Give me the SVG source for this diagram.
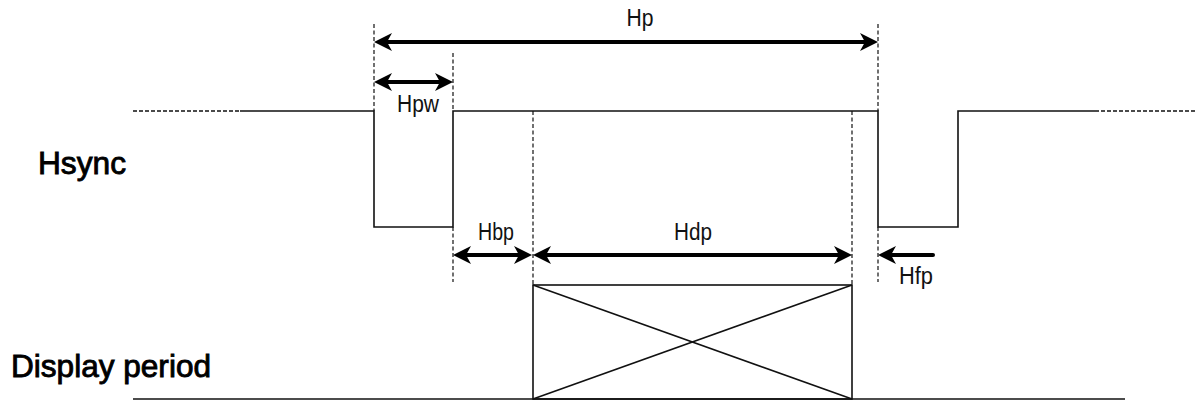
<svg xmlns="http://www.w3.org/2000/svg" width="1196" height="400" viewBox="0 0 1196 400">
<style>
.sig{fill:none;stroke:#111;stroke-width:1.6}
.ext{fill:none;stroke:#111;stroke-width:1.4;stroke-dasharray:4 2}
.guide{fill:none;stroke:#111;stroke-width:1.2;stroke-dasharray:4 2.5}
.arr{fill:none;stroke:#000;stroke-width:4}
.lbl{font-family:"Liberation Sans",Arial,sans-serif;font-size:23px;fill:#111;text-anchor:middle}
.big{font-family:"Liberation Sans",Arial,sans-serif;font-size:32px;fill:#000;stroke:#000;stroke-width:0.9}
</style>
<defs>
<marker id="ah" viewBox="0 0 18 18" refX="12" refY="9" markerWidth="18" markerHeight="18" markerUnits="userSpaceOnUse" orient="auto-start-reverse">
<path d="M0,0 L18,9 L0,18 L5,9 z" fill="#000"/>
</marker>
</defs>
<g id="guides">
<line class="guide" x1="374" y1="24" x2="374" y2="111"/>
<line class="guide" x1="453" y1="53" x2="453" y2="111"/>
<line class="guide" x1="453" y1="227" x2="453" y2="282"/>
<line class="guide" x1="533" y1="111" x2="533" y2="285"/>
<line class="guide" x1="852" y1="111" x2="852" y2="285"/>
<line class="guide" x1="878" y1="24" x2="878" y2="111"/>
<line class="guide" x1="878" y1="227" x2="878" y2="282"/>
</g>
<g id="hsync-signal">
<line class="ext" x1="133" y1="111" x2="240" y2="111"/>
<path class="sig" d="M240,111 H374 V227 H453 V111 H878 V227 H958 V111 H1095"/>
<line class="ext" x1="1095" y1="111" x2="1196" y2="111"/>
</g>
<g id="display-signal">
<line class="sig" x1="133" y1="399" x2="1125" y2="399"/>
<rect class="sig" x="533" y="285" width="319" height="114"/>
<line class="sig" x1="533" y1="285" x2="852" y2="399"/>
<line class="sig" x1="533" y1="399" x2="852" y2="285"/>
</g>
<g id="connectors">
<line class="arr" x1="380" y1="42" x2="872" y2="42" marker-start="url(#ah)" marker-end="url(#ah)"/>
<line class="arr" x1="380" y1="82" x2="447" y2="82" stroke-width="3.5" marker-start="url(#ah)" marker-end="url(#ah)"/>
<line class="arr" x1="459" y1="255" x2="526" y2="255" marker-start="url(#ah)" marker-end="url(#ah)"/>
<line class="arr" x1="539" y1="255" x2="846" y2="255" marker-start="url(#ah)" marker-end="url(#ah)"/>
<path class="arr" d="M933,255 H884" stroke-linecap="round" marker-end="url(#ah)"/>
</g>
<g id="labels">
<text class="lbl" x="640" y="26" textLength="27" lengthAdjust="spacingAndGlyphs">Hp</text>
<text class="lbl" x="418" y="112" textLength="42" lengthAdjust="spacingAndGlyphs">Hpw</text>
<text class="lbl" x="496" y="240" textLength="36" lengthAdjust="spacingAndGlyphs">Hbp</text>
<text class="lbl" x="693" y="240" textLength="38" lengthAdjust="spacingAndGlyphs">Hdp</text>
<text class="lbl" x="916" y="284" textLength="34" lengthAdjust="spacingAndGlyphs">Hfp</text>
<text class="big" x="38" y="174" textLength="88" lengthAdjust="spacingAndGlyphs">Hsync</text>
<text class="big" x="11" y="377" textLength="200" lengthAdjust="spacingAndGlyphs">Display period</text>
</g>
</svg>
